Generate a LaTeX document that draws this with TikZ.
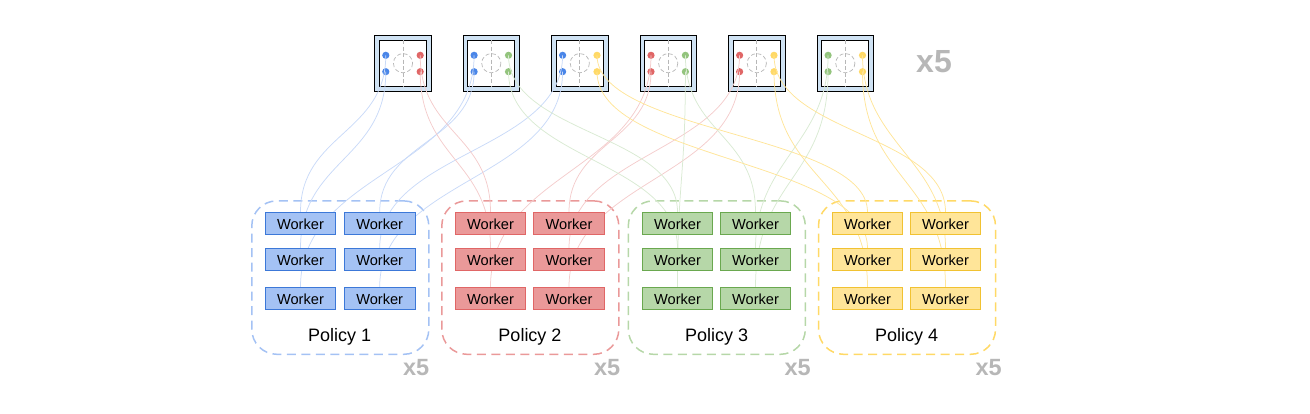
\documentclass[tikz,border=0pt]{standalone}
\usepackage{fontspec}
\setmainfont{Liberation Sans}
\pgfdeclarelayer{back}
\pgfdeclarelayer{mid}
\pgfsetlayers{back,mid,main}
\definecolor{blueA}{HTML}{4A86E8}
\definecolor{blueB}{HTML}{A4C2F4}
\definecolor{blueC}{HTML}{C9DAF8}
\definecolor{blueD}{HTML}{3C78D8}
\definecolor{redA}{HTML}{E06666}
\definecolor{redB}{HTML}{EA9999}
\definecolor{redC}{HTML}{F4CCCC}
\definecolor{greenA}{HTML}{93C47D}
\definecolor{greenB}{HTML}{B6D7A8}
\definecolor{greenC}{HTML}{D9EAD3}
\definecolor{greenD}{HTML}{6AA84F}
\definecolor{yellowA}{HTML}{FFD966}
\definecolor{yellowB}{HTML}{FFE599}
\definecolor{yellowD}{HTML}{F1C232}
\definecolor{frameC}{HTML}{CFE2F3}
\definecolor{greyC}{HTML}{B7B7B7}
\begin{document}
\begin{tikzpicture}[x=1pt,y=-1pt]
        \tikzset{
          worker/.style={draw=#1,line width=0.7pt,inner sep=0pt,minimum width=70.4pt,minimum height=22pt,font=\fontsize{14.6}{16}\selectfont},
          policybox/.style={draw=#1,line width=1.5pt,dash pattern=on 9pt off 5.5pt,rounded corners=25pt,inner sep=0pt,minimum width=177pt,minimum height=153.4pt},
          policylab/.style={font=\fontsize{18}{20}\selectfont,inner sep=0pt},
          times/.style={font=\bfseries\fontsize{#1}{#1}\selectfont,text=greyC,inner sep=0pt},
          port/.style={circle,fill=#1,inner sep=0pt,minimum size=7.2pt},
          wire/.style={line width=0.75pt,#1},
        }
        \tikzset{
          pics/switch/.style args={#1}{code={
            \draw[black,line width=0.8pt,fill=frameC] (-28.2,-27.9) rectangle (28.2,27.9);
            \draw[black,line width=0.8pt,fill=white] (-23.5,-23) rectangle (23.5,23);
            \draw[greyC,line width=#1,dash pattern=on 4pt off 2.5pt] (0,-23) -- (0,23);
            \draw[greyC,line width=#1,dash pattern=on 4pt off 2.5pt] (0,0) circle (9.6);
            },
          }
        }
        \useasboundingbox (0,0) rectangle (1310,414);
        %SWITCHES
        \begin{pgfonlayer}{back}
        \foreach \n/\xs/\cl/\cr in {1/403/blueA/redA,2/491.3/blueA/greenA,3/579.8/blueA/yellowA,
                                    4/668.2/redA/greenA,5/756.8/redA/yellowA,6/845.3/greenA/yellowA}{
          \draw (\xs,63.2) pic {switch={0.7pt}};
          \node[port=\cl] (l\n a) at (\xs-17.2,55.3) {};
          \node[port=\cl] (l\n b) at (\xs-17.2,71.7) {};
          \node[port=\cr] (r\n a) at (\xs+17.2,55.3) {};
          \node[port=\cr] (r\n b) at (\xs+17.2,71.7) {};
        }
        %POLICIES
        \node[policybox=blueB] (p1) at (340.3,277.6) {};
        \node[policybox=redB] (p2) at (530.3,277.6) {};
        \node[policybox=greenB] (p3) at (716.8,277.6) {};
        \node[policybox=yellowA] (p4) at (907,277.6) {};
        \end{pgfonlayer}
        \node[times=32] (xtop) at (934,62) {x5};
        %WORKERS
        \foreach \n/\xa/\xb/\cf/\cd in {1/300.5/379.7/blueB/blueD,2/490.5/569/redB/redA,
                                        3/677.5/755.5/greenB/greenD,4/867.5/945.5/yellowB/yellowD}{
          \foreach \r/\ys in {1/223.3,2/259.4,3/298.2}{
            \node[worker=\cd,fill=\cf,text depth=0pt] (c\n\r) at (\xa,\ys) {\raisebox{-1.3pt}{Worker}};
            \node[worker=\cd,fill=\cf,text depth=0pt] (e\n\r) at (\xb,\ys) {\raisebox{-1.3pt}{Worker}};
          }
        }
        %WIRES
        \begin{pgfonlayer}{mid}
        \foreach \from/\to/\k/\cw in {
          l1a/c11/78/blueC,l1b/c12/88/blueC,l2a/c13/115/blueC,l2b/e11/70/blueC,l3a/e12/96/blueC,l3b/e13/108/blueC,
          r1a/c21/78/redC,r1b/c22/88/redC,l4a/c23/115/redC,l4b/e21/70/redC,l5a/e22/96/redC,l5b/e23/108/redC,
          r2a/c31/78/greenC,r2b/c32/88/greenC,r4a/e31/78/greenC,r4b/c33/108/greenC,l6a/e32/88/greenC,l6b/e33/108/greenC,
          r3a/c41/78/yellowB,r3b/c42/88/yellowB,r5b/c43/108/yellowB,r5a/e41/78/yellowB,r6a/e42/88/yellowB,r6b/e43/108/yellowB}{
          \draw[wire=\cw] (\from.center) .. controls +(0,\k) and +(0,-\k) .. (\to.north);
        }
        \end{pgfonlayer}
        %LABELS
        \node[policylab] (lab1) at (339.7,336.7) {Policy 1};
        \node[policylab] (lab2) at (530,336.7) {Policy 2};
        \node[policylab] (lab3) at (716.7,336.7) {Policy 3};
        \node[policylab] (lab4) at (906.7,336.7) {Policy 4};
        \node[times=23.5,anchor=east] (x1) at (429.5,368) {x5};
        \node[times=23.5,anchor=east] (x2) at (620.5,368) {x5};
        \node[times=23.5,anchor=east] (x3) at (811,368) {x5};
        \node[times=23.5,anchor=east] (x4) at (1002,368) {x5};
    \end{tikzpicture}
\end{document}
